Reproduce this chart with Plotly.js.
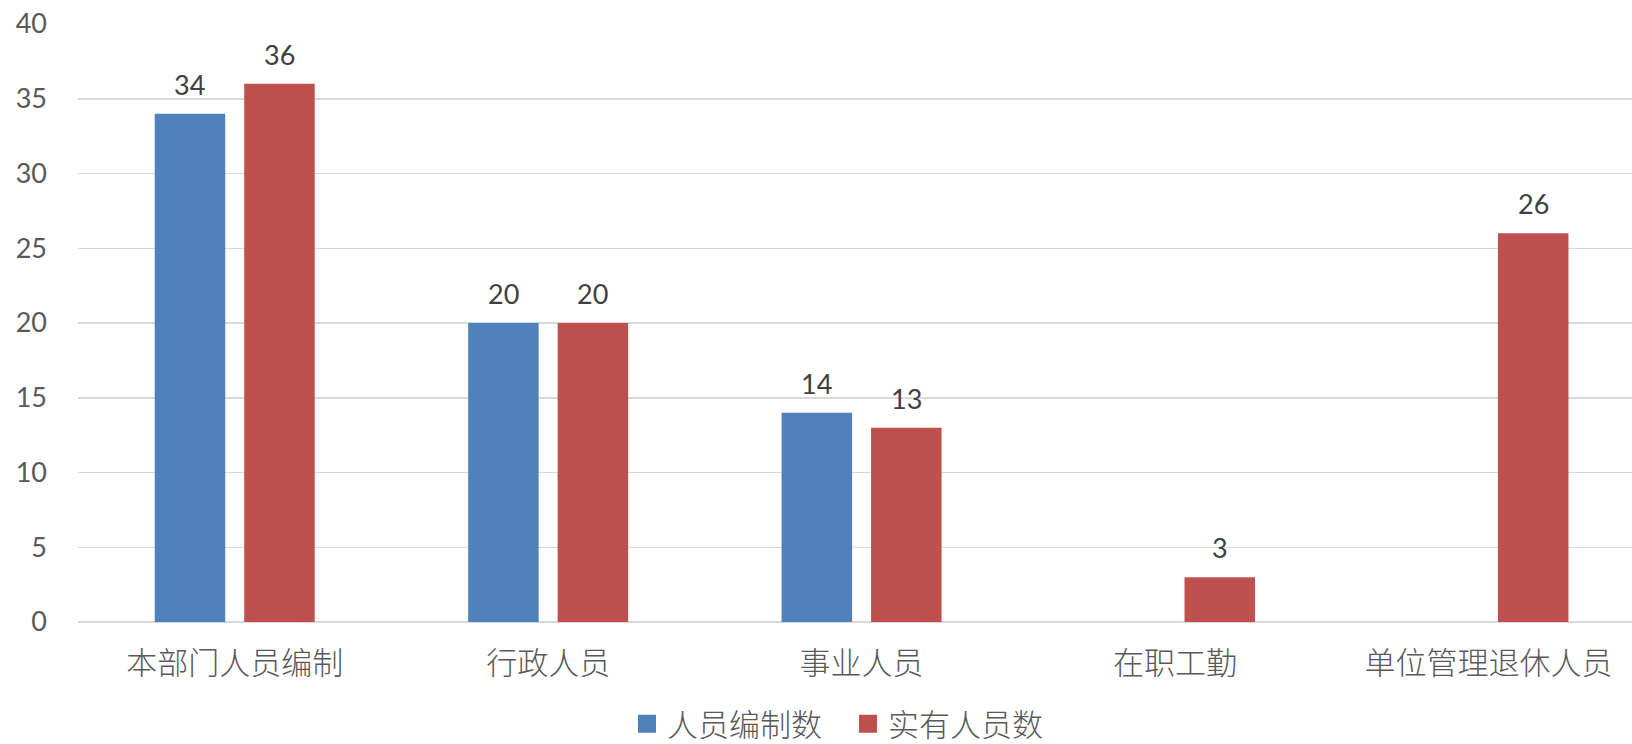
<!DOCTYPE html>
<html>
<head>
<meta charset="utf-8">
<script src="https://cdn.plot.ly/plotly-3.0.1.min.js"></script>
<style>html,body{margin:0;padding:0;background:#fff;}#chart{width:1632px;height:744px;}</style>
</head>
<body>
<div id="chart"></div>
<script>
var categories = ['本部门人员编制', '行政人员', '事业人员', '在职工勤', '单位管理退休人员'];
var seriesNames = ['人员编制数', '实有人员数'];
var planned = [34, 20, 14, null, null];
var actual = [36, 20, 13, 3, 26];
var yTicks = [0, 5, 10, 15, 20, 25, 30, 35, 40];

var colors = ['#4F81BD', '#C0504D'];
var cjk = '"Noto Sans CJK SC", "Noto Sans", sans-serif';
var num = 'Lato, "Open Sans", sans-serif';

var traces = [
  {type: 'bar', name: seriesNames[0], x: categories, y: planned, marker: {color: colors[0]}, showlegend: false},
  {type: 'bar', name: seriesNames[1], x: categories, y: actual, marker: {color: colors[1]}, showlegend: false},
  {type: 'scatter', mode: 'markers', name: seriesNames[0], x: [null], y: [null], marker: {symbol: 'square', size: 16, color: colors[0], line: {width: 2, color: colors[0]}}},
  {type: 'scatter', mode: 'markers', name: seriesNames[1], x: [null], y: [null], marker: {symbol: 'square', size: 16, color: colors[1], line: {width: 2, color: colors[1]}}}
];

var annotations = [];
var series = [planned, actual];
var shifts = [-44.75, 44.75];
series.forEach(function (vals, s) {
  vals.forEach(function (v, i) {
    if (v === null) return;
    annotations.push({
      x: categories[i], y: v, xref: 'x', yref: 'y',
      text: String(v), showarrow: false,
      xanchor: 'center', yanchor: 'bottom',
      xshift: shifts[s], yshift: 11,
      font: {family: num, size: 27, color: '#404040'}
    });
  });
});

var layout = {
  width: 1632, height: 744,
  margin: {l: 78, r: 0, t: 24, b: 122, pad: 0, autoexpand: false},
  paper_bgcolor: '#ffffff', plot_bgcolor: '#ffffff',
  barmode: 'group', bargap: 0.429, bargroupgap: 0.212,
  xaxis: {
    type: 'category', range: [-0.5, 4.458],
    showgrid: false, showline: false, zeroline: false, ticks: '',
    tickfont: {family: cjk, size: 31, color: '#595959', weight: 300},
    ticklabelstandoff: 20
  },
  yaxis: {
    range: [0, 40], tickvals: yTicks, ticktext: yTicks.map(String),
    showgrid: true, gridcolor: '#D9D9D9', gridwidth: 1.5,
    zeroline: true, zerolinecolor: '#D9D9D9', zerolinewidth: 1.5,
    showline: false, ticks: '',
    tickfont: {family: num, size: 27, color: '#595959'},
    ticklabelstandoff: 30
  },
  showlegend: true,
  legend: {
    orientation: 'h', x: 0.4955, xanchor: 'center', y: -0.1706, yanchor: 'middle',
    font: {family: cjk, size: 31, color: '#595959', weight: 300},
    itemwidth: 30, entrywidth: 176, bgcolor: 'rgba(0,0,0,0)', borderwidth: 0
  },
  annotations: annotations,
  hovermode: false
};

Plotly.newPlot('chart', traces, layout, {displayModeBar: false, staticPlot: true});
</script>
</body>
</html>
